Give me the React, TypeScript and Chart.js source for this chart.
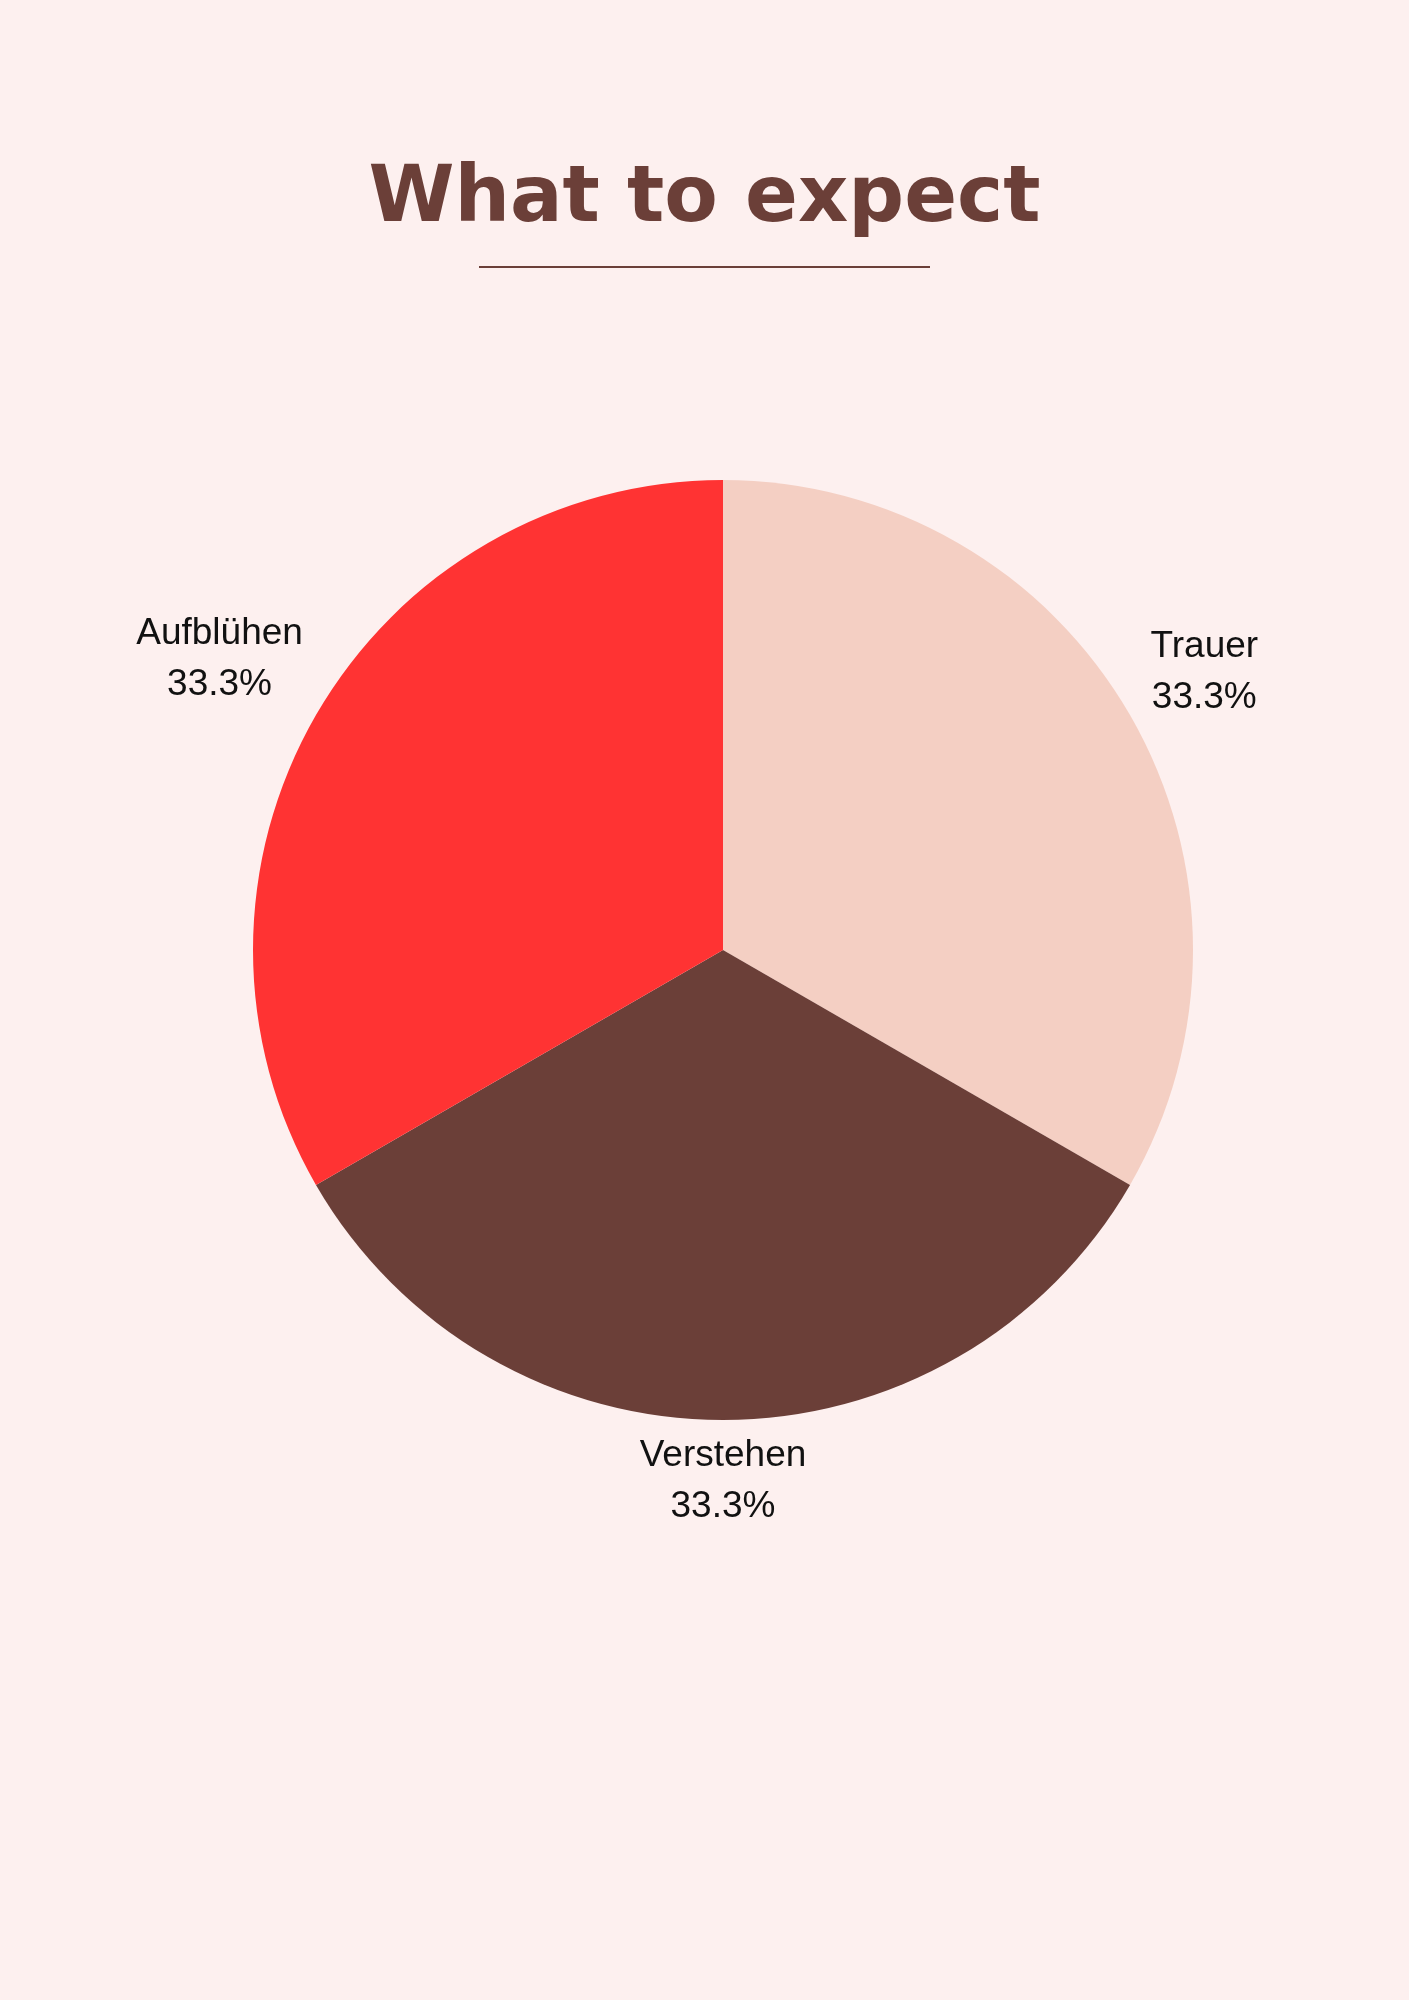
import React, { useEffect, useRef } from "react";
import { Chart, registerables } from "chart.js";

Chart.register(...registerables);

const TITLE = "What to expect";
const categories = ["Trauer", "Verstehen", "Aufblühen"];
const values = [33.3, 33.3, 33.3];
const percentLabels = ["33.3%", "33.3%", "33.3%"];
const sliceColors = ["#F4CFC3", "#6B3F38", "#FF3333"];

const BG = "#FDF0EF";
const BROWN = "#6B3F38";

const outsideLabels = {
  id: "outsideLabels",
  afterDatasetsDraw(chart: any) {
    const ctx = chart.ctx;
    const meta = chart.getDatasetMeta(0);
    const fontSize = 37;
    const lineH = 51;
    const pad = 17;
    ctx.save();
    ctx.font = `${fontSize}px "Liberation Sans", Arial, sans-serif`;
    ctx.fillStyle = "#111111";
    ctx.textAlign = "center";
    ctx.textBaseline = "middle";
    meta.data.forEach((arc: any, i: number) => {
      const p = arc.getProps(["x", "y", "startAngle", "endAngle", "outerRadius"], true);
      const mid = (p.startAngle + p.endAngle) / 2;
      const dx = Math.cos(mid);
      const dy = Math.sin(mid);
      const lines = [categories[i], percentLabels[i]];
      const w = Math.max(...lines.map((l) => ctx.measureText(l).width)) / 2;
      const h = lineH;
      const dist = p.outerRadius + pad + Math.abs(w * dx) + Math.abs((h * dy) / 1.15);
      const cx = p.x + dx * dist;
      const cy = p.y + dy * dist;
      ctx.fillText(lines[0], cx, cy - lineH / 2);
      ctx.fillText(lines[1], cx, cy + lineH / 2);
    });
    ctx.restore();
  },
};

export default function App() {
  const canvasRef = useRef<HTMLCanvasElement | null>(null);

  useEffect(() => {
    document.body.style.margin = "0";
    document.body.style.background = BG;
    const canvas = canvasRef.current;
    if (!canvas) return;
    const chart = new Chart(canvas, {
      type: "pie",
      data: {
        labels: categories,
        datasets: [
          {
            data: values,
            backgroundColor: sliceColors,
            borderWidth: 0,
          },
        ],
      },
      options: {
        animation: false,
        responsive: false,
        maintainAspectRatio: false,
        layout: { padding: { left: 253, right: 216, top: 480, bottom: 580 } },
        plugins: {
          legend: { display: false },
          tooltip: { enabled: false },
          title: { display: false },
        },
      },
      plugins: [outsideLabels],
    });
    return () => chart.destroy();
  }, []);

  return (
    <div
      style={{
        position: "relative",
        width: 1409,
        height: 2000,
        background: BG,
        overflow: "hidden",
      }}
    >
      <div
        style={{
          position: "absolute",
          top: 155,
          left: 0,
          width: 1409,
          textAlign: "center",
          fontFamily: '"DejaVu Sans", sans-serif',
          fontWeight: 900,
          fontSize: 78,
          lineHeight: 1,
          color: BROWN,
          letterSpacing: 0,
        }}
      >
        {TITLE}
      </div>
      <div
        style={{
          position: "absolute",
          top: 266,
          left: 479,
          width: 451,
          height: 2,
          background: BROWN,
        }}
      />
      <canvas
        ref={canvasRef}
        width={1409}
        height={2000}
        style={{ position: "absolute", left: 0, top: 0, width: 1409, height: 2000 }}
      />
    </div>
  );
}
